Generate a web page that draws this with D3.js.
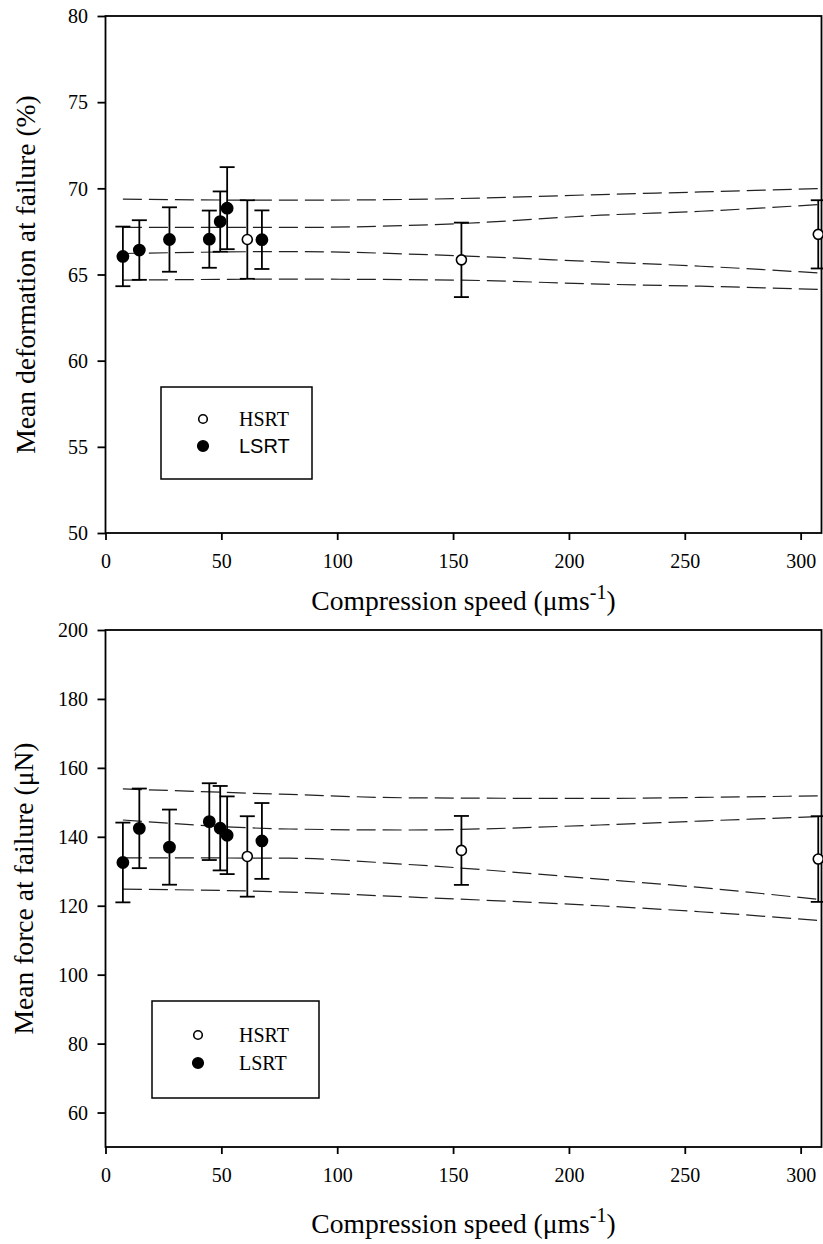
<!DOCTYPE html>
<html>
<head>
<meta charset="utf-8">
<script src="https://cdn.jsdelivr.net/npm/d3@7"></script>
<style>
  body { margin: 0; background: #fff; }
  svg { display: block; }
</style>
</head>
<body>
<svg id="fig" width="823" height="1244"></svg>
<script>
// Compression speed (µm/s) of each test group
const speedLSRT = [7.5, 14.6, 27.6, 44.8, 49.5, 52.5, 67.5];
const speedHSRT = [61.2, 153.6, 307.6];

// Mean deformation at failure (%) with error-bar half widths
const deformLSRT    = [66.05, 66.42, 67.03, 67.05, 68.07, 68.85, 67.02];
const deformLSRTErr = [1.73, 1.73, 1.87, 1.66, 1.75, 2.38, 1.70];
const deformHSRT    = [67.03, 65.85, 67.33];
const deformHSRTErr = [2.28, 2.16, 1.98];

// Mean force at failure (µN) with error-bar half widths
const forceLSRT    = [132.55, 142.45, 137.0, 144.4, 142.5, 140.45, 138.8];
const forceLSRTErr = [11.57, 11.55, 10.9, 11.14, 12.25, 11.27, 11.0];
const forceHSRT    = [134.3, 136.05, 133.55];
const forceHSRTErr = [11.67, 10.0, 12.43];

// Confidence (inner) and prediction (outer) bands of the regression fits
const deformBandX     = [7.5, 80, 153.6, 213.7, 256.9, 308];
const deformPredUpper = [69.37, 69.31, 69.41, 69.64, 69.79, 69.99];
const deformConfUpper = [67.74, 67.73, 67.96, 68.44, 68.67, 69.06];
const deformConfLower = [66.22, 66.33, 66.08, 65.73, 65.48, 65.09];
const deformPredLower = [64.67, 64.73, 64.67, 64.44, 64.32, 64.13];

const forceBandX     = [7.5, 79.4, 128.9, 213.2, 256.4, 309];
const forcePredUpper = [153.9, 152.29, 151.33, 151.13, 151.42, 151.9];
const forceConfUpper = [144.87, 142.26, 141.97, 143.42, 144.57, 145.9];
const forceConfLower = [133.9, 133.79, 132.05, 127.71, 125.3, 121.73];
const forcePredLower = [124.82, 123.95, 122.6, 119.99, 118.26, 115.67];

// Axis ticks
const speedTicks  = [0, 50, 100, 150, 200, 250, 300];
const deformTicks = [50, 55, 60, 65, 70, 75, 80];
const forceTicks  = [60, 80, 100, 120, 140, 160, 180, 200];

const legendLabels = ["HSRT", "LSRT"];

const svg = d3.select("#fig");
const SERIF = "'Liberation Serif', 'Times New Roman', serif";
const SANS = "'Liberation Sans', Arial, sans-serif";
const TITLE_SIZE = 27.6;

function drawPanel(p) {
  const x = d3.scaleLinear().domain([0, 309]).range([105.5, 821.5]);
  const y = d3.scaleLinear().domain(p.yDomain).range([p.bottom, p.top]);
  const g = svg.append("g");

  const clipId = "clip" + p.top;
  svg.append("clipPath").attr("id", clipId)
    .append("rect").attr("x", x(0)).attr("y", p.top)
    .attr("width", x(309) - x(0)).attr("height", p.bottom - p.top);

  // regression bands
  const line = d3.line().x(d => x(d[0])).y(d => y(d[1])).curve(d3.curveMonotoneX);
  const bands = g.append("g").attr("clip-path", `url(#${clipId})`);
  p.bands.forEach(vals => {
    bands.append("path")
      .attr("d", line(p.bandX.map((v, i) => [v, vals[i]])))
      .attr("fill", "none").attr("stroke", "#222")
      .attr("stroke-width", 1.2).attr("stroke-dasharray", "19,7");
  });

  // axes
  const ax = d3.axisBottom(x).tickValues(speedTicks).tickSize(7).tickPadding(14).tickSizeOuter(0);
  const ay = d3.axisLeft(y).tickValues(p.yTicks).tickSize(8).tickPadding(9.5).tickSizeOuter(0);
  const gx = g.append("g").attr("transform", `translate(0,${p.bottom})`).call(ax);
  const gy = g.append("g").attr("transform", `translate(${x(0)},0)`).call(ay);
  [gx, gy].forEach(a => {
    a.select(".domain").remove();
    a.selectAll("line").attr("stroke", "#000").attr("stroke-width", 1.8);
    a.selectAll("text").attr("font-family", SERIF).attr("font-size", 20).attr("fill", "#000");
  });
  gy.selectAll("text").attr("dy", "0.34em");

  // frame
  g.append("rect")
    .attr("x", x(0)).attr("y", p.top)
    .attr("width", x(309) - x(0)).attr("height", p.bottom - p.top)
    .attr("fill", "none").attr("stroke", "#000").attr("stroke-width", 1.8);

  // error bars
  const series = [
    { xs: speedLSRT, ys: p.lsrt, es: p.lsrtErr, fill: "#000" },
    { xs: speedHSRT, ys: p.hsrt, es: p.hsrtErr, fill: "#fff" }
  ];
  const eb = g.append("g").attr("stroke", "#000").attr("stroke-width", 1.8);
  series.forEach(s => {
    s.xs.forEach((sx, i) => {
      const cx = x(sx), y1 = y(s.ys[i] + s.es[i]), y0 = y(s.ys[i] - s.es[i]);
      eb.append("line").attr("x1", cx).attr("x2", cx).attr("y1", y1).attr("y2", y0);
      eb.append("line").attr("x1", cx - 7.5).attr("x2", cx + 7.5).attr("y1", y1).attr("y2", y1);
      eb.append("line").attr("x1", cx - 7.5).attr("x2", cx + 7.5).attr("y1", y0).attr("y2", y0);
    });
  });

  // points
  series.forEach(s => {
    g.append("g").selectAll("circle").data(s.xs).join("circle")
      .attr("cx", d => x(d)).attr("cy", (d, i) => y(s.ys[i]))
      .attr("r", s.fill === "#000" ? 5.6 : 5)
      .attr("fill", s.fill).attr("stroke", "#000").attr("stroke-width", 1.6);
  });

  // axis titles
  const xt = g.append("text")
    .attr("x", (x(0) + x(309)) / 2).attr("y", p.xTitleY)
    .attr("text-anchor", "middle").attr("font-family", SERIF).attr("font-size", TITLE_SIZE);
  xt.append("tspan").text("Compression speed (μms");
  xt.append("tspan").attr("font-size", 20).attr("dy", -11).text("-1");
  xt.append("tspan").attr("dy", 11).text(")");

  g.append("text")
    .attr("transform", `translate(${p.yTitleX},${(p.top + p.bottom) / 2}) rotate(-90)`)
    .attr("text-anchor", "middle").attr("font-family", SERIF).attr("font-size", TITLE_SIZE)
    .text(p.yTitle);

  // legend
  const L = p.legend;
  g.append("rect").attr("x", L.x0).attr("y", L.y0)
    .attr("width", L.x1 - L.x0).attr("height", L.y1 - L.y0)
    .attr("fill", "#fff").attr("stroke", "#000").attr("stroke-width", 1.5);
  legendLabels.forEach((lab, i) => {
    const ly = L.rowY[i];
    g.append("circle").attr("cx", L.symX).attr("cy", ly)
      .attr("r", i === 0 ? 4.3 : 5.3)
      .attr("fill", i === 0 ? "#fff" : "#000")
      .attr("stroke", "#000").attr("stroke-width", 1.6);
    g.append("text").attr("x", L.textX).attr("y", ly).attr("dy", "0.35em")
      .attr("font-family", L.fonts[i]).attr("font-size", 20).text(lab);
  });
}

drawPanel({
  top: 16, bottom: 533, yDomain: [50, 80], yTicks: deformTicks,
  lsrt: deformLSRT, lsrtErr: deformLSRTErr, hsrt: deformHSRT, hsrtErr: deformHSRTErr,
  bandX: deformBandX,
  bands: [deformPredUpper, deformConfUpper, deformConfLower, deformPredLower],
  xTitleY: 610, yTitleX: 35,
  yTitle: "Mean deformation at failure (%)",
  legend: { x0: 161, x1: 312, y0: 387, y1: 479, symX: 203, textX: 239, rowY: [419, 446], fonts: [SERIF, SANS] }
});

drawPanel({
  top: 630, bottom: 1147, yDomain: [50, 200], yTicks: forceTicks,
  lsrt: forceLSRT, lsrtErr: forceLSRTErr, hsrt: forceHSRT, hsrtErr: forceHSRTErr,
  bandX: forceBandX,
  bands: [forcePredUpper, forceConfUpper, forceConfLower, forcePredLower],
  xTitleY: 1233, yTitleX: 33,
  yTitle: "Mean force at failure (μN)",
  legend: { x0: 152, x1: 319, y0: 1001, y1: 1098, symX: 198, textX: 239, rowY: [1035, 1063], fonts: [SERIF, SERIF] }
});
</script>
</body>
</html>
